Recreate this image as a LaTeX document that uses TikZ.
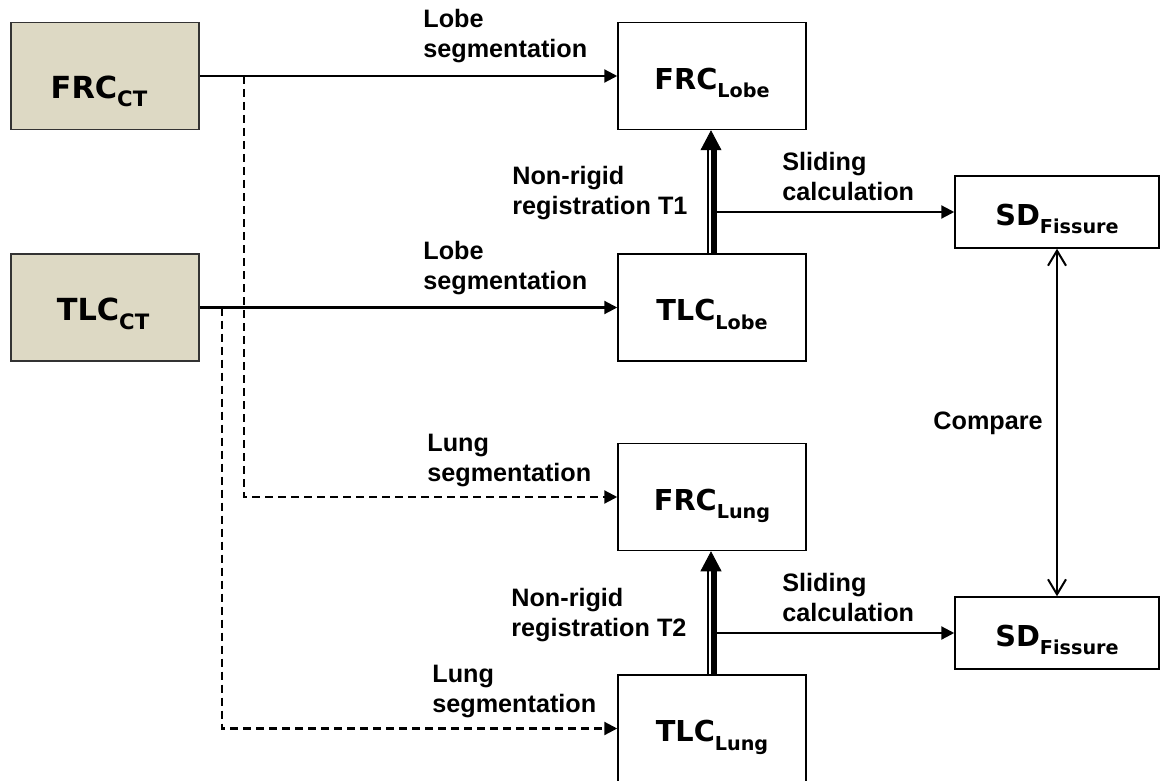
\documentclass[tikz,border=0pt]{standalone}
\usepackage{fontspec}
\setmainfont{Liberation Sans}
\newfontfamily\boxfont{DejaVu Sans}
\usetikzlibrary{arrows.meta}
\definecolor{tanfill}{RGB}{221,217,196}
% #1 = lowering of the baseline below the box centre, #2 = main text, #3 = subscript
\newcommand{\boxlabel}[3][6.5pt]{\raisebox{-#1}[0pt][0pt]{\boxfont\bfseries\fontsize{14.4}{17}\selectfont #2\raisebox{-4.3pt}{\fontsize{9.6}{11}\selectfont #3}}}
\newcommand{\ctlabel}[3][6.5pt]{\raisebox{-#1}[0pt][0pt]{\boxfont\bfseries\fontsize{15.2}{18}\selectfont #2\raisebox{-4.5pt}{\fontsize{10.6}{12}\selectfont #3}}}
\tikzset{
  box/.style={draw=black, line width=0.75pt, minimum width=94pt, minimum height=53.5pt, inner sep=0pt},
  ctbox/.style={box, fill=tanfill, draw=black!80},
  sdbox/.style={box, minimum width=102pt, minimum height=36pt},
  lab/.style={font=\bfseries\fontsize{12.6}{15}\selectfont, align=left, inner sep=0pt},
  arr/.style={line width=1.1pt, -{Triangle[length=6.5pt,width=6.5pt]}},
  dsh/.style={arr, dash pattern=on 4pt off 2.5pt},
  thinline/.style={line width=1.2pt, shorten >=9pt},
  thickline/.style={line width=2.8pt, shorten >=9pt},
  bigtip/.style={line width=0.4pt, -{Triangle[length=10pt,width=10.5pt]}},
  cmp/.style={line width=1pt, {Straight Barb[length=7.5pt,width=9pt]}-{Straight Barb[length=7.5pt,width=9pt]}}
}
\begin{document}
\begin{tikzpicture}[x=0.5pt,y=-0.5pt]
\path[use as bounding box] (0,0) rectangle (1162,781);

% boxes
\node[ctbox] (frcct) at (105,76) {\kern-6pt\ctlabel[11pt]{FRC}{CT}};
\node[ctbox] (tlcct) at (105,307.5) {\kern-2pt\ctlabel{TLC}{CT}};
\node[box] (frclobe) at (712,76) {\boxlabel{FRC}{Lobe}};
\node[box] (tlclobe) at (712,307.5) {\boxlabel{TLC}{Lobe}};
\node[box] (frclung) at (712,497) {\boxlabel{FRC}{Lung}};
\node[box] (tlclung) at (712,728.5) {\boxlabel{TLC}{Lung}};
\node[sdbox] (sd1) at (1057,212) {\boxlabel{SD}{Fissure}};
\node[sdbox] (sd2) at (1057,633) {\boxlabel{SD}{Fissure}};

% branch coordinates
\coordinate (dA) at (244,0);
\coordinate (dB) at (222,0);

% solid segmentation arrows
\draw[arr] (frcct.east) -- (frclobe.west);
\draw[arr] (tlcct.east) -- (tlclobe.west);

% dashed lung segmentation arrows
\draw[dsh] (dA |- frcct.east) |- (frclung.west);
\draw[dsh] (dB |- tlcct.east) |- (tlclung.west);

% double registration arrows
\draw[thinline] ([xshift=-1.9pt]tlclobe.north) -- ([xshift=-1.9pt]frclobe.south);
\draw[thickline] ([xshift=0.9pt]tlclobe.north) -- ([xshift=0.9pt]frclobe.south);
\draw[bigtip] ([xshift=-0.5pt,yshift=-11pt]frclobe.south) -- ([xshift=-0.5pt]frclobe.south);

\draw[thinline] ([xshift=-1.9pt]tlclung.north) -- ([xshift=-1.9pt]frclung.south);
\draw[thickline] ([xshift=0.9pt]tlclung.north) -- ([xshift=0.9pt]frclung.south);
\draw[bigtip] ([xshift=-0.5pt,yshift=-11pt]frclung.south) -- ([xshift=-0.5pt]frclung.south);

% sliding calculation arrows
\draw[arr] ([xshift=2.2pt]tlclobe.north |- sd1.west) -- (sd1.west);
\draw[arr] ([xshift=2.2pt]tlclung.north |- sd2.west) -- (sd2.west);

% compare
\draw[cmp] (sd1.south) -- (sd2.north);

% labels
\node[lab, anchor=south west] (l1) at (423,63) {Lobe\\segmentation};
\node[lab, anchor=south west] (l2) at (423,295) {Lobe\\segmentation};
\node[lab, anchor=south west] (l3) at (427,487) {Lung\\segmentation};
\node[lab, anchor=south west] (l4) at (432,718) {Lung\\segmentation};
\node[lab, anchor=south west] (l5) at (512,220) {Non-rigid\\registration T1};
\node[lab, anchor=south west] (l6) at (511,642) {Non-rigid\\registration T2};
\node[lab, anchor=south west] (l7) at (782,201) {Sliding\\calculation};
\node[lab, anchor=south west] (l8) at (782,622.5) {Sliding\\calculation};
\node[lab, anchor=base west] (l9) at (933,429) {Compare};
\end{tikzpicture}
\end{document}
